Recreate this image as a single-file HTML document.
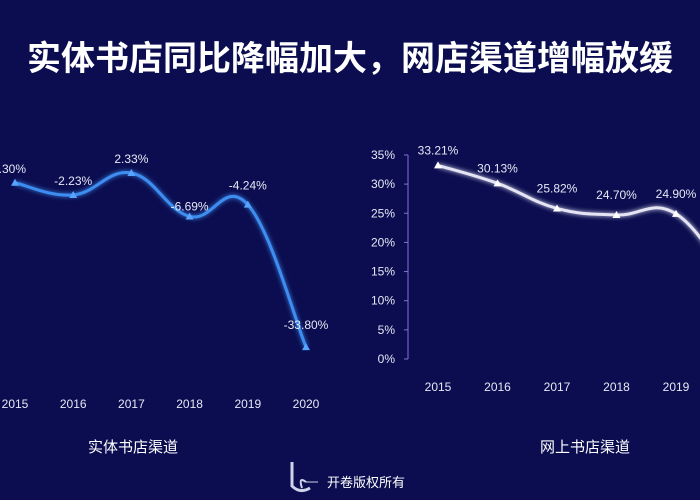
<!DOCTYPE html>
<html><head><meta charset="utf-8">
<style>
html,body{margin:0;padding:0;background:#0b0d50;}
svg{display:block;font-family:"Liberation Sans","Noto Sans CJK SC",sans-serif;}
</style></head>
<body>
<svg id="c" width="700" height="500" viewBox="0 0 700 500">
<defs>
<filter id="glow" x="-20%" y="-20%" width="140%" height="140%"><feGaussianBlur stdDeviation="2.5" result="b"/><feMerge><feMergeNode in="b"/><feMergeNode in="SourceGraphic"/></feMerge></filter>
</defs>
<rect width="700" height="500" fill="#0b0d50"/>
<text x="350" y="70" text-anchor="middle" font-size="34" font-weight="bold" fill="#fff">实体书店同比降幅加大，网店渠道增幅放缓</text>
<g id="left"></g>
<g id="right"></g>
<text x="133" y="452" text-anchor="middle" font-size="15" fill="#fff">实体书店渠道</text>
<text x="585" y="452" text-anchor="middle" font-size="15" fill="#fff">网上书店渠道</text>
<g>
<path d="M292 462 L292 486 Q300 494 310 488" stroke="#cfd3ea" stroke-width="3" fill="none"/>
<path d="M306 482 Q298 476 302 488" stroke="#cfd3ea" stroke-width="2" fill="none"/>
<line x1="306" y1="482" x2="318" y2="482" stroke="#cfd3ea" stroke-width="1"/>
</g>
<text x="327" y="487" font-size="13" fill="#fff">开卷版权所有</text>
</svg>
<script>
const years = ["2015","2016","2017","2018","2019","2020"];
const physicalValues = [0.30,-2.23,2.33,-6.69,-4.24,-33.80];
const physicalLabels = ["0.30%","-2.23%","2.33%","-6.69%","-4.24%","-33.80%"];
const onlineValues = [33.21,30.13,25.82,24.70,24.90,12];
const onlineLabels = ["33.21%","30.13%","25.82%","24.70%","24.90%","12.00%"];
const onlineTicks = [0,5,10,15,20,25,30,35];

const NS="http://www.w3.org/2000/svg";
function mk(tag,attrs,parent,txt){const e=document.createElementNS(NS,tag);for(const k in attrs)e.setAttribute(k,attrs[k]);if(txt!==undefined)e.textContent=txt;parent.appendChild(e);return e;}
function smooth(pts){let d=`M${pts[0][0]},${pts[0][1]}`;const t=0.2;for(let i=0;i<pts.length-1;i++){const p0=pts[i-1]||pts[i],p1=pts[i],p2=pts[i+1],p3=pts[i+2]||p2;
d+=` C${p1[0]+(p2[0]-p0[0])*t},${p1[1]+(p2[1]-p0[1])*t} ${p2[0]-(p3[0]-p1[0])*t},${p2[1]-(p3[1]-p1[1])*t} ${p2[0]},${p2[1]}`;}return d;}

// left chart
const L=document.getElementById('left');
const lx=i=>15+i*58.2;
const ly=v=>184.2-v*4.82;
const lp=physicalValues.map((v,i)=>[lx(i),ly(v)]);
const lpath=mk('path',{d:smooth(lp),stroke:'#3d8ef0',"stroke-width":3,fill:'none',filter:'url(#glow)'},L);


lp.forEach((p,i)=>{
 const m=mk('path',{d:`M${p[0]},${p[1]-4} L${p[0]+4},${p[1]+3} L${p[0]-4},${p[1]+3}Z`,fill:'#5aa2ff'},L);
 
 
 const t=mk('text',{x:p[0]+(i==0?-6:0),y:p[1]-(i==5?18:i==4?15:i==3?6:10),"text-anchor":"middle","font-size":12,fill:'#e6e8f5'},L,physicalLabels[i]);
 
 
 const x=mk('text',{x:lx(i),y:408,"text-anchor":"middle","font-size":12,fill:'#e6e8f5'},L,years[i]);
 
 
});

// right chart
const R=document.getElementById('right');
const rx=i=>438+i*59.5;
const ry=v=>359-v*5.83;
const ax=mk('line',{x1:408,y1:ry(35),x2:408,y2:ry(0),stroke:'#8a6fd6',"stroke-width":1},R);


onlineTicks.forEach(v=>{
 const tk=mk('line',{x1:404,y1:ry(v),x2:408,y2:ry(v),stroke:'#8a6fd6'},R);
 
 
 const t=mk('text',{x:395,y:ry(v)+4,"text-anchor":"end","font-size":12,fill:'#e6e8f5'},R,v+'%');
 
 
});
const rp=onlineValues.map((v,i)=>[rx(i),ry(v)]);
const rpath=mk('path',{d:smooth(rp),stroke:'#e4e4f4',"stroke-width":3,fill:'none',filter:'url(#glow)'},R);


rp.forEach((p,i)=>{
 const m=mk('path',{d:`M${p[0]},${p[1]-4} L${p[0]+4},${p[1]+3} L${p[0]-4},${p[1]+3}Z`,fill:'#ffffff'},R);
 
 
 const t=mk('text',{x:p[0],y:p[1]-(i>=2?16:11),"text-anchor":"middle","font-size":12,fill:'#e6e8f5'},R,onlineLabels[i]);
 
 
 const x=mk('text',{x:rx(i),y:391,"text-anchor":"middle","font-size":12,fill:'#e6e8f5'},R,years[i]);
 
 
});
</script>
</body></html>
